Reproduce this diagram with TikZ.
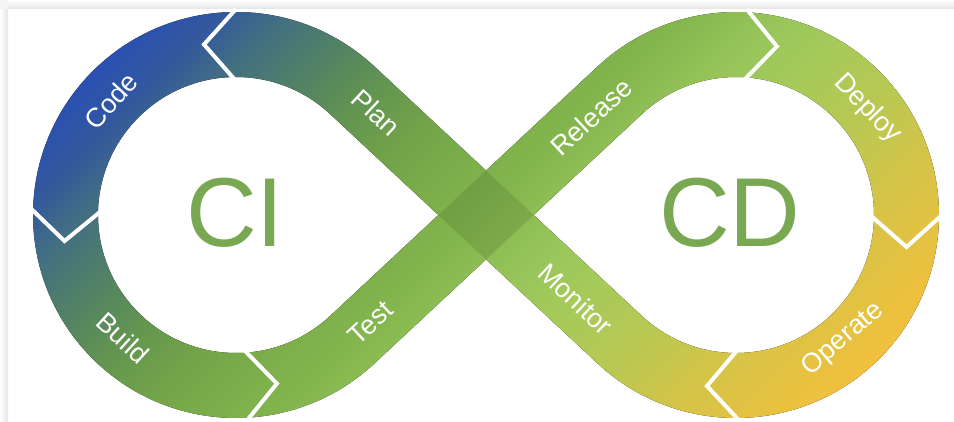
\documentclass[tikz,border=0pt]{standalone}
\usepackage{fontspec}
\setmainfont{Liberation Sans}
\usetikzlibrary{calc}

\definecolor{flowA}{HTML}{2A50B2}
\definecolor{flowB}{HTML}{33589E}
\definecolor{flowC}{HTML}{437080}
\definecolor{flowD}{HTML}{56865F}
\definecolor{flowE}{HTML}{649650}
\definecolor{flowF}{HTML}{74A648}
\definecolor{flowG}{HTML}{84B64E}
\definecolor{flowH}{HTML}{98C65A}
\definecolor{flowI}{HTML}{A6CA5A}
\definecolor{flowJ}{HTML}{B8C852}
\definecolor{flowK}{HTML}{D4C448}
\definecolor{flowL}{HTML}{F2C03C}
\definecolor{tagGreen}{HTML}{79A852}

\pgfdeclarehorizontalshading{loopflow}{100bp}{%
  color(0bp)=(flowA); color(31.5bp)=(flowA); color(33.8bp)=(flowB);
  color(36.3bp)=(flowC); color(39.8bp)=(flowD); color(42.3bp)=(flowE);
  color(45.5bp)=(flowF); color(50.4bp)=(flowG); color(54bp)=(flowH);
  color(56.8bp)=(flowI); color(60.3bp)=(flowJ); color(63.9bp)=(flowK);
  color(69.5bp)=(flowL); color(100bp)=(flowL)}

\tikzset{
  stage/.style={text=white, font=\fontsize{27}{27}\selectfont, inner sep=0pt},
  loopname/.style={text=tagGreen, font=\fontsize{98}{98}\selectfont, inner sep=0pt},
  cut/.style={draw=white, line width=4pt, miter limit=10},
}

\begin{document}
\begin{tikzpicture}[x=1pt, y=1pt]
  \useasboundingbox (0,0) rectangle (954,421);
  % ring sizes (pixels of the original)
  \def\rin{138}      % inner edge
  \def\rmid{170.5}   % middle of the band
  \def\rout{203}     % outer edge
  \def\half{32.5}    % half band width
  \def\cutin{134}
  \def\cutout{206}
  \pgfmathsetmacro{\tilt}{asin(\rmid/250)}   % slope of the crossing bands

  % 0. card shadow
  \fill[top color=white, bottom color=black!10] (8,412) rectangle (954,421);
  \fill[left color=white, right color=black!10] (0,0) rectangle (8,412);
  \fill[black!4] (0,412) rectangle (8,421);

  % 1. key points
  \coordinate (X)  at (486,206);   % crossing
  \coordinate (Lc) at (236,206);   % CI loop
  \coordinate (Rc) at (736,206);   % CD loop
  \coordinate (T)  at ($(X)+(0,{\half/cos(\tilt)})$);
  \coordinate (B)  at ($(X)-(0,{\half/cos(\tilt)})$);
  \coordinate (Dl) at ($(X)-({\half/sin(\tilt)},0)$);
  \coordinate (Dr) at ($(X)+({\half/sin(\tilt)},0)$);

  % 2. band, one diagonal gradient
  \begin{scope}[even odd rule]
    \clip
      (T) -- ($(Lc)+(90-\tilt:\rout)$)
        arc[start angle=90-\tilt, end angle=270+\tilt, radius=\rout]
      -- (B) -- ($(Rc)+(270-\tilt:\rout)$)
        arc[start angle=270-\tilt, end angle=450+\tilt, radius=\rout] -- cycle
      (Dl) -- ($(Lc)+(90-\tilt:\rin)$)
        arc[start angle=90-\tilt, end angle=270+\tilt, radius=\rin] -- cycle
      (Dr) -- ($(Rc)+(270-\tilt:\rin)$)
        arc[start angle=270-\tilt, end angle=450+\tilt, radius=\rin] -- cycle;
    \fill[shading=loopflow, shading angle=-45] (-23,-290) rectangle (977,710);
  \end{scope}

  % 3. darker overlap at the crossing
  \fill[black, opacity=0.1] (T) -- (Dl) -- (B) -- (Dr) -- cycle;

  % 4. white chevrons between the stages
  \foreach \t in {90,178,273}
    \draw[cut] ($(Lc)+(\t:\cutout)$) -- ($(Lc)+(\t:\rmid)+(\t+90:32)$) -- ($(Lc)+(\t:\cutin)$);
  \foreach \t in {87,0,271}
    \draw[cut] ($(Rc)+(\t:\cutout)$) -- ($(Rc)+(\t:\rmid)+(\t-90:32)$) -- ($(Rc)+(\t:\cutin)$);

  % 5. stage labels
  \node[stage, rotate=47.6]   (code)    at ($(Lc)+(137.6:169)$) {Code};
  \node[stage, rotate=-42.6]  (build)   at ($(Lc)+(227.4:167)$) {Build};
  \node[stage, rotate=-\tilt] (plan)    at ($(X)+(180-\tilt:150)$) {Plan};
  \node[stage, rotate=\tilt]  (test)    at ($(X)+(180+\tilt:158)$) {Test};
  \node[stage, rotate=\tilt]  (release) at ($(X)+(\tilt:144)$) {Release};
  \node[stage, rotate=-\tilt] (monitor) at ($(X)+(-\tilt:123)$) {Monitor};
  \node[stage, rotate=-46]    (deploy)  at ($(Rc)+(39:169)$) {Deploy};
  \node[stage, rotate=40.8]   (operate) at ($(Rc)+(310.8:164)$) {Operate};

  % 6. loop names
  \node[loopname] (ci) at (235,208) {CI};
  \node[loopname] (cd) at (730,208) {CD};
\end{tikzpicture}
\end{document}
